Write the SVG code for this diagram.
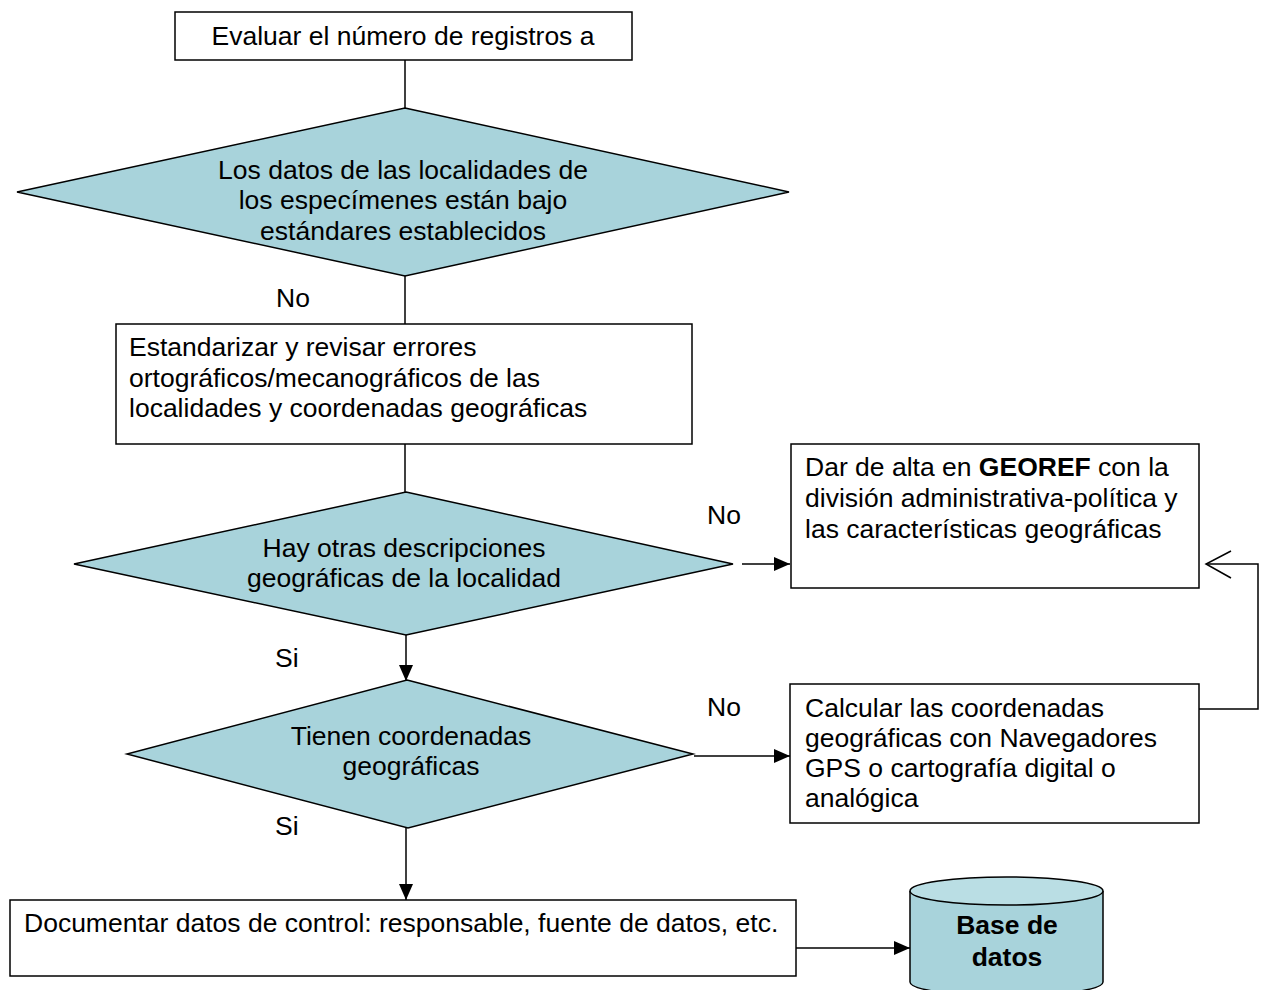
<svg xmlns="http://www.w3.org/2000/svg" width="1264" height="990" viewBox="0 0 1264 990">
<style>
text{font-family:"Liberation Sans",Arial,sans-serif;font-size:26.5px;fill:#000}
.c{text-anchor:middle}
.b{font-weight:bold}
.box{fill:#fff;stroke:#000;stroke-width:1.5}
.dia{fill:#A8D3DB;stroke:#000;stroke-width:1.5}
.ln{fill:none;stroke:#000;stroke-width:1.5}
</style>
<defs>
<marker id="ah" markerWidth="16" markerHeight="14" refX="16" refY="7" orient="auto" markerUnits="userSpaceOnUse">
<path d="M0,0 L16,7 L0,14 Z" fill="#000"/>
</marker>
</defs>
<rect width="1264" height="990" fill="#fff"/>
<g id="connectors">
<line class="ln" x1="405" y1="60" x2="405" y2="108"/>
<line class="ln" x1="405" y1="276" x2="405" y2="324"/>
<line class="ln" x1="405" y1="444" x2="405" y2="492"/>
<line class="ln" x1="742" y1="564" x2="790" y2="564" marker-end="url(#ah)"/>
<line class="ln" x1="406" y1="635" x2="406" y2="681" marker-end="url(#ah)"/>
<line class="ln" x1="694" y1="756" x2="790" y2="756" marker-end="url(#ah)"/>
<path class="ln" d="M1199,709 H1258 V564 H1206"/>
<path class="ln" d="M1231,551 L1206,564 L1231,578"/>
<line class="ln" x1="406" y1="828" x2="406" y2="900" marker-end="url(#ah)"/>
<line class="ln" x1="790" y1="948" x2="910" y2="948" marker-end="url(#ah)"/>
<text x="276" y="307">No</text>
<text x="707" y="524">No</text>
<text x="275" y="667">Si</text>
<text x="707" y="716">No</text>
<text x="275" y="835">Si</text>
</g>
<g id="n1">
<rect class="box" x="175" y="12" width="457" height="48"/>
<text class="c" x="403" y="45">Evaluar el número de registros a</text>
</g>
<g id="n2">
<polygon class="dia" points="405,108 789,192 405,276 17,192"/>
<text class="c" x="403" y="179">Los datos de las localidades de</text>
<text class="c" x="403" y="209">los especímenes están bajo</text>
<text class="c" x="403" y="240">estándares establecidos</text>
</g>
<g id="n3">
<rect class="box" x="116" y="324" width="576" height="120"/>
<text x="129" y="356">Estandarizar y revisar errores</text>
<text x="129" y="387">ortográficos/mecanográficos de las</text>
<text x="129" y="417">localidades y coordenadas geográficas</text>
</g>
<g id="n4">
<polygon class="dia" points="406,492 733,564 406,635 74,564"/>
<text class="c" x="404" y="557">Hay otras descripciones</text>
<text class="c" x="404" y="587">geográficas de la localidad</text>
</g>
<g id="n5">
<rect class="box" x="791" y="444" width="408" height="144"/>
<text x="805" y="476">Dar de alta en <tspan class="b">GEOREF</tspan> con la</text>
<text x="805" y="507">división administrativa-política y</text>
<text x="805" y="538">las características geográficas</text>
</g>
<g id="n6">
<polygon class="dia" points="407,680 693,754 408,828 127,754"/>
<text class="c" x="411" y="745">Tienen coordenadas</text>
<text class="c" x="411" y="775">geográficas</text>
</g>
<g id="n7">
<rect class="box" x="790" y="684" width="409" height="139"/>
<text x="805" y="717">Calcular las coordenadas</text>
<text x="805" y="747">geográficas con Navegadores</text>
<text x="805" y="777">GPS o cartografía digital o</text>
<text x="805" y="807">analógica</text>
</g>
<g id="n8">
<rect class="box" x="10" y="900" width="786" height="76"/>
<text x="24" y="932">Documentar datos de control: responsable, fuente de datos, etc.</text>
</g>
<g id="n9">
<path d="M910,891 V982 A96.5,14 0 0 0 1103,982 V891" fill="#A8D3DB" stroke="#000" stroke-width="1.5"/>
<ellipse cx="1006.5" cy="891" rx="96.5" ry="14" fill="#BADEE4" stroke="#000" stroke-width="1.5"/>
<text class="c b" x="1007" y="934">Base de</text>
<text class="c b" x="1007" y="966">datos</text>
</g>
</svg>
